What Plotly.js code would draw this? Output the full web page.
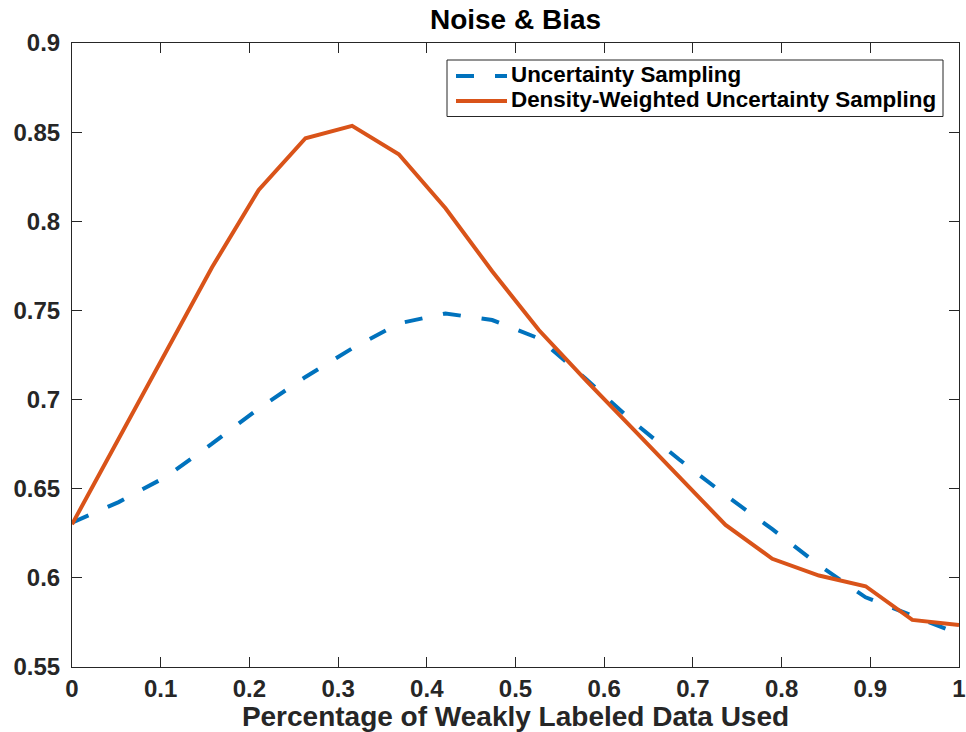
<!DOCTYPE html>
<html>
<head>
<meta charset="utf-8">
<script src="https://cdn.plot.ly/plotly-3.0.1.min.js"></script>
<style>html,body{margin:0;padding:0;background:#fff;}#chart{width:966px;height:732px;}</style>
</head>
<body>
<div id="chart"></div>
<script>
var xValues = [0, 0.0526, 0.1053, 0.1579, 0.2105, 0.2632, 0.3158, 0.3684, 0.4211, 0.4737, 0.5263, 0.5789, 0.6316, 0.6842, 0.7368, 0.7895, 0.8421, 0.8947, 0.9474, 1];
var uncertaintySampling = [0.631, 0.6425, 0.6565, 0.6753, 0.695, 0.7127, 0.7287, 0.7427, 0.7483, 0.7446, 0.7343, 0.7118, 0.688, 0.6665, 0.6464, 0.6273, 0.6071, 0.5891, 0.5788, 0.5685];
var densityWeighted = [0.630, 0.6784, 0.7264, 0.7742, 0.8176, 0.8466, 0.8535, 0.8376, 0.8073, 0.772, 0.739, 0.711, 0.684, 0.657, 0.6297, 0.6107, 0.6013, 0.5953, 0.5764, 0.5736];
var seriesNames = ["Uncertainty Sampling", "Density-Weighted Uncertainty Sampling"];
var seriesColors = ['#0072BD', '#D95319'];
var seriesDash = ['18px,21px', 'solid'];
var xTickVals = [0, 0.1, 0.2, 0.3, 0.4, 0.5, 0.6, 0.7, 0.8, 0.9, 1];
var xTickText = ["0", "0.1", "0.2", "0.3", "0.4", "0.5", "0.6", "0.7", "0.8", "0.9", "1"];
var yTickVals = [0.55, 0.6, 0.65, 0.7, 0.75, 0.8, 0.85, 0.9];
var yTickText = ["0.55", "0.6", "0.65", "0.7", "0.75", "0.8", "0.85", "0.9"];
var titleText = "Noise &amp; Bias";
var xTitleText = "Percentage of Weakly Labeled Data Used";

var FONT = '"Liberation Sans", Arial, Helvetica, sans-serif';
var AX = '#262626';

// plot area geometry (pixels)
var W = 966, H = 732, ML = 72, MR = 7, MT = 43, MB = 65;
var PW = W - ML - MR, PH = H - MT - MB;
function px2x(p) { return (p - ML) / PW; }
function px2y(p) { return (H - MB - p) / PH; }

var traces = [
  {x: xValues, y: uncertaintySampling, name: seriesNames[0], type: 'scatter', mode: 'lines',
   showlegend: false, line: {color: seriesColors[0], width: 4, dash: seriesDash[0]}},
  {x: xValues, y: densityWeighted, name: seriesNames[1], type: 'scatter', mode: 'lines',
   showlegend: false, line: {color: seriesColors[1], width: 4, dash: seriesDash[1]}}
];

// legend drawn as a boxed key (MATLAB style)
var legBox = {x0: 447, x1: 943, y0: 60, y1: 116.5};
var legRows = [74, 99];
var shapes = [
  {type: 'rect', xref: 'paper', yref: 'paper', x0: px2x(legBox.x0), x1: px2x(legBox.x1),
   y0: px2y(legBox.y1), y1: px2y(legBox.y0), line: {color: AX, width: 1}, fillcolor: '#fff', layer: 'above'}
];
var annotations = [];
for (var i = 0; i < seriesNames.length; i++) {
  shapes.push({type: 'line', xref: 'paper', yref: 'paper', x0: px2x(456), x1: px2x(507),
    y0: px2y(legRows[i] + 2), y1: px2y(legRows[i] + 2), layer: 'above',
    line: {color: seriesColors[i], width: 4, dash: seriesDash[i]}});
  annotations.push({xref: 'paper', yref: 'paper', x: px2x(509), y: px2y(legRows[i]),
    xanchor: 'left', yanchor: 'middle', showarrow: false, text: seriesNames[i],
    font: {family: FONT, size: 22.4, color: '#000', weight: 'bold'}});
}

var axisCommon = {
  showline: true, linecolor: AX, linewidth: 1, mirror: 'ticks',
  ticks: 'inside', ticklen: 10, tickwidth: 1, tickcolor: AX,
  showgrid: false, zeroline: false, tickmode: 'array',
  tickfont: {family: FONT, size: 24, color: AX, weight: 'bold'}
};

var layout = {
  width: W, height: H,
  margin: {l: ML, r: MR, t: MT, b: MB},
  paper_bgcolor: '#fff', plot_bgcolor: '#fff',
  showlegend: false,
  title: {text: titleText, x: 0.5, xref: 'paper', xanchor: 'center',
          y: 1 - 19 / H, yref: 'container', yanchor: 'middle',
          font: {family: FONT, size: 28, color: '#000', weight: 'bold'}},
  xaxis: Object.assign({}, axisCommon, {range: [0, 1], tickvals: xTickVals, ticktext: xTickText,
          title: {text: xTitleText, font: {family: FONT, size: 28, color: AX, weight: 'bold'}, standoff: 3}}),
  yaxis: Object.assign({}, axisCommon, {range: [0.55, 0.9], tickvals: yTickVals, ticktext: yTickText,
          ticklabelstandoff: 6}),
  shapes: shapes,
  annotations: annotations
};

Plotly.newPlot('chart', traces, layout, {displayModeBar: false, staticPlot: true});
</script>
</body>
</html>
